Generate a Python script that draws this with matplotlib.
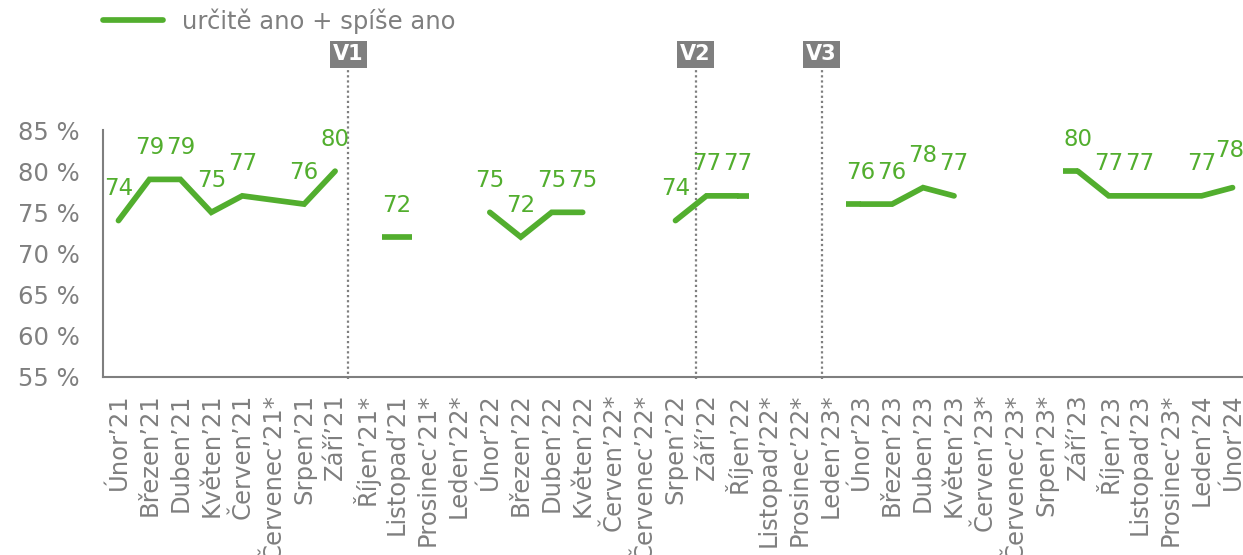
import numpy as np
import matplotlib
matplotlib.use('Agg')
import matplotlib.pyplot as plt
from matplotlib.ticker import FuncFormatter

# data
months = ['Únor’21', 'Březen’21', 'Duben’21', 'Květen’21', 'Červen’21', 'Červenec’21*',
          'Srpen’21', 'Září’21', 'Říjen’21*', 'Listopad’21', 'Prosinec’21*', 'Leden’22*',
          'Únor’22', 'Březen’22', 'Duben’22', 'Květen’22', 'Červen’22*', 'Červenec’22*',
          'Srpen’22', 'Září’22', 'Říjen’22', 'Listopad’22*', 'Prosinec’22*', 'Leden’23*',
          'Únor’23', 'Březen’23', 'Duben’23', 'Květen’23', 'Červen’23*', 'Červenec’23*',
          'Srpen’23*', 'Září’23', 'Říjen’23', 'Listopad’23', 'Prosinec’23*', 'Leden’24',
          'Únor’24']
values = [74, 79, 79, 75, 77, 76.5,
          76, 80, None, 72, None, None,
          75, 72, 75, 75, None, None,
          74, 77, 77, None, None, None,
          76, 76, 78, 77, None, None,
          None, 80, 77, 77, 77, 77,
          78]
show_label = [True, True, True, True, True, False,
              True, True, False, True, False, False,
              True, True, True, True, False, False,
              True, True, True, False, False, False,
              True, True, True, True, False, False,
              False, True, True, True, False, True,
              True]
# short flat dashes drawn at some points: (left reach, right reach) in categories
stubs = {9: (0.47, 0.47), 20: (0.0, 0.37), 24: (0.5, 0.0), 31: (0.47, 0.0)}
waves = ['V1', 'V2', 'V3']
wave_pos = [7.43, 18.65, 22.72]
series_name = 'určitě ano + spíše ano'

GREEN = '#52AE2E'
GRAY = '#7f7f7f'
FS = 16.5
LW = 4.1

plt.rcParams['font.family'] = ['DejaVu Sans']

fig = plt.figure(figsize=(12.43, 5.55), dpi=100)
ax = fig.add_axes([103/1243, 1-377/555, 1145/1243, 247/555])

x = np.arange(len(months))
y = np.array([np.nan if v is None else v for v in values], dtype=float)

line, = ax.plot(x, y, color=GREEN, lw=LW, solid_capstyle='round', solid_joinstyle='miter',
                label=series_name, zorder=3)
for i, (l, r) in stubs.items():
    ax.plot([x[i] - l, x[i] + r], [y[i], y[i]], color=GREEN, lw=LW,
            solid_capstyle='butt', zorder=3)

for i, v in enumerate(values):
    if v is None or not show_label[i]:
        continue
    off = (-3, 37) if i == len(values) - 1 else (0, 32)
    ax.annotate(f'{v:g}', (i, v), xytext=off, textcoords='offset pixels',
                ha='center', va='center', color=GREEN, fontsize=FS)

# wave separators
for name, p in zip(waves, wave_pos):
    ax.plot([p, p], [54.8, 92.5], color=GRAY, lw=1.6, ls=(0, (1, 1.3)), clip_on=False, zorder=2)
    ax.text(p, 94.2, name, ha='center', va='center', color='white', fontsize=15,
            fontweight='bold', clip_on=False,
            bbox=dict(boxstyle='square,pad=0.17', fc=GRAY, ec='none'))

ax.set_xlim(-0.5, len(months) - 0.5)
ax.set_ylim(55, 85)
ax.set_yticks(range(55, 86, 5))
ax.yaxis.set_major_formatter(FuncFormatter(lambda v, _: f'{v:.0f} %'))
ax.set_xticks(x)
ax.set_xticklabels(months, rotation=90)
ax.tick_params(axis='both', length=0, labelsize=17.5, labelcolor=GRAY)
ax.tick_params(axis='y', pad=17)
ax.tick_params(axis='x', pad=12)
for s in ['top', 'right']:
    ax.spines[s].set_visible(False)
for s in ['left', 'bottom']:
    ax.spines[s].set_color(GRAY)
    ax.spines[s].set_linewidth(1.5)

fig.legend(handles=[line], loc='upper left', bbox_to_anchor=(103/1243, 1-8/555),
           frameon=False, fontsize=17.5, labelcolor=GRAY, handlelength=2.45,
           handletextpad=0.8, borderpad=0, borderaxespad=0)

fig.savefig('out.png', dpi=100)
